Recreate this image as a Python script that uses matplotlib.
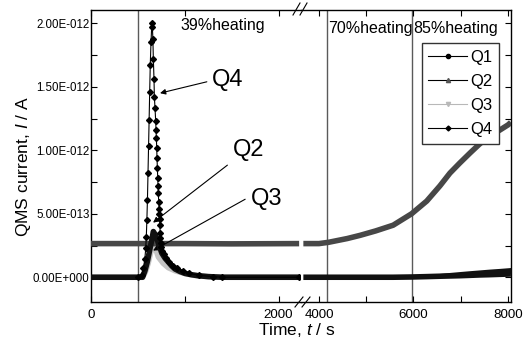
import matplotlib
matplotlib.use('Agg')
import matplotlib.pyplot as plt
from matplotlib.lines import Line2D
from matplotlib.ticker import FixedLocator, FixedFormatter, MultipleLocator

plt.rcParams['font.family'] = 'Liberation Sans'
plt.rcParams['mathtext.fontset'] = 'custom'
plt.rcParams['mathtext.it'] = 'Liberation Sans:italic'
plt.rcParams['mathtext.rm'] = 'Liberation Sans'

# currents in units of 1E-12 A, time in s

# ---- before the axis break ----
t_q1_left = [0, 550, 575, 600, 625, 650, 665, 690, 718, 755, 790, 825, 860, 896, 950,
             1003, 1070, 1142, 1250, 1400, 2220]
q1_left = [0, 0, 0.05, 0.12, 0.21, 0.30, 0.36, 0.33, 0.27, 0.19, 0.15, 0.12, 0.09, 0.065,
           0.045, 0.03, 0.02, 0.012, 0.005, 0, 0]

t_q2_left = [0, 500, 1000, 1500, 2220]
q2_left = [0.265, 0.265, 0.265, 0.263, 0.265]

t_q3_left = [0, 550, 580, 610, 635, 655, 670, 700, 718, 770, 825, 900, 1000, 1100, 1250, 1400, 2220]
q3_left = [0, 0, 0.04, 0.11, 0.19, 0.24, 0.245, 0.20, 0.16, 0.11, 0.075, 0.05, 0.03, 0.015,
           0.005, 0, 0]

t_q4_left = [500, 541, 558, 574, 584, 590, 596, 602, 608, 614, 620, 626, 632, 640, 647, 653,
             660, 665, 672, 676, 683, 690, 694, 697, 701, 704, 708, 712, 715, 718, 723,
             726, 729, 732, 735, 738, 741, 745, 750, 760, 780, 800, 830, 870, 920, 980,
             1050, 1150, 1300, 1400, 2220]
q4_left = [0, 0.02, 0.07, 0.14, 0.23, 0.32, 0.45, 0.61, 0.82, 1.03, 1.24, 1.46, 1.67, 1.85,
           1.97, 2.00, 1.88, 1.72, 1.56, 1.42, 1.33, 1.23, 1.16, 1.10, 1.02, 0.94, 0.86, 0.78,
           0.72, 0.66, 0.59, 0.54, 0.50, 0.46, 0.41, 0.35, 0.31, 0.27, 0.24, 0.21, 0.18, 0.15,
           0.12, 0.09, 0.07, 0.05, 0.03, 0.015, 0.005, 0, 0]

# ---- after the axis break ----
t_right = [3670, 4000, 4200, 4400, 4600, 4870, 5200, 5570, 5960, 6280, 6560, 6770, 6980,
           7200, 7400, 7600, 7830, 8000, 8060]
q2_right = [0.265, 0.265, 0.275, 0.29, 0.305, 0.33, 0.365, 0.41, 0.50, 0.60, 0.72, 0.82,
            0.90, 0.98, 1.05, 1.11, 1.16, 1.20, 1.22]
q1_right = [0, 0, 0, 0, 0, 0, 0, 0, 0.002, 0.005, 0.008, 0.01, 0.012, 0.015, 0.018,
            0.02, 0.023, 0.025, 0.026]
q1_right_top = [0, 0, 0, 0, 0, 0, 0, 0, 0.005, 0.02, 0.03, 0.038, 0.045, 0.052, 0.058,
                0.064, 0.07, 0.075, 0.077]

heating_left = [500]
heating_right = [4165, 5965]
heating_labels = ['39%heating', '70%heating', '85%heating']

ytick_vals = [0, 0.5, 1.0, 1.5, 2.0]
ytick_labels = ['0.00E+000', '5.00E-013', '1.00E-012', '1.50E-012', '2.00E-012']

c_q1, c_q2, c_q3, c_q4 = '#111111', '#474747', '#c4c4c4', '#000000'
band = dict(lw=4, solid_capstyle='butt')

fig = plt.figure(figsize=(5.27, 3.47), dpi=100)
ax1 = fig.add_axes([91 / 527, 45 / 347, 210 / 527, 292 / 347])
ax2 = fig.add_axes([301 / 527, 45 / 347, 210 / 527, 292 / 347])

# left part
ax1.plot(t_q3_left, q3_left, color=c_q3, zorder=2, **band)
ax1.plot(t_q2_left, q2_left, color=c_q2, zorder=3, **band)
ax1.plot(t_q1_left, q1_left, color=c_q1, zorder=4, **band)
ax1.plot(t_q4_left, q4_left, color=c_q4, lw=0.8, marker='D', ms=3, zorder=5)
for t in heating_left:
    ax1.axvline(t, color='#5a5a5a', lw=1, zorder=1)

# right part
ax2.plot(t_right, q1_right, color=c_q1, zorder=3, **band)
ax2.fill_between(t_right, q1_right, q1_right_top, color=c_q1, lw=0, zorder=3)
ax2.plot(t_right, q2_right, color=c_q2, zorder=4, **band)
for t in heating_right:
    ax2.axvline(t, color='#5a5a5a', lw=1, zorder=1)

for ax in (ax1, ax2):
    ax.set_ylim(-0.195, 2.105)
    ax.yaxis.set_major_locator(FixedLocator(ytick_vals))
    ax.yaxis.set_minor_locator(MultipleLocator(0.25))
    ax.tick_params(which='both', direction='in', length=4, width=0.8, top=True)
    for s in ax.spines.values():
        s.set_linewidth(1.0)

ax1.set_xlim(0, 2240)
ax1.xaxis.set_major_locator(FixedLocator([0, 2000]))
ax1.xaxis.set_minor_locator(FixedLocator([1000]))
ax1.spines['right'].set_visible(False)
ax1.tick_params(which='both', right=False)
ax1.yaxis.set_major_formatter(FixedFormatter(ytick_labels))
ax1.tick_params(axis='y', labelsize=8.3, pad=1)
ax1.tick_params(axis='x', labelsize=9.6, pad=5)

ax2.set_xlim(3620, 8063)
ax2.xaxis.set_major_locator(FixedLocator([4000, 6000, 8000]))
ax2.xaxis.set_minor_locator(FixedLocator([5000, 7000]))
ax2.spines['left'].set_visible(False)
ax2.tick_params(which='both', left=False, right=True, labelleft=False)
ax2.tick_params(axis='x', labelsize=9.6, pad=5)

# heating stage labels
ax1.text(950, 1.98, heating_labels[0], fontsize=11.5, va='center')
ax2.text(4190, 1.96, heating_labels[1], fontsize=11.5, va='center')
ax2.text(5990, 1.96, heating_labels[2], fontsize=11.5, va='center')

# peak annotations
arrow = dict(arrowstyle='-|>', color='k', lw=0.8, mutation_scale=8, shrinkA=2, shrinkB=0)
ax1.annotate('Q4', xy=(736, 1.45), xytext=(1462, 1.55), fontsize=17, ha='center', va='center',
             arrowprops=dict(arrow, relpos=(0, 0.5)))
ax1.annotate('Q2', xy=(662, 0.43), xytext=(1676, 1.00), fontsize=17, ha='center', va='center',
             arrowprops=dict(arrow, relpos=(0, 0)))
ax1.annotate('Q3', xy=(662, 0.21), xytext=(1868, 0.62), fontsize=17, ha='center', va='center',
             arrowprops=dict(arrow, relpos=(0, 0.6)))

# axis labels
fig.text(0.045, 0.52, 'QMS current, $I$ / A', rotation=90, fontsize=12.5, ha='center', va='center')
fig.text(0.564, 0.049, 'Time, $t$ / s', fontsize=12.5, ha='center', va='center')

# break marks
for x0, x1, y0, y1 in [(293, 300, 15, 3), (300, 307, 15, 3), (295, 303, 307, 297), (302, 310, 307, 297)]:
    fig.add_artist(Line2D([x0 / 527, x1 / 527], [1 - y0 / 347, 1 - y1 / 347], color='k', lw=0.8))

handles = [
    Line2D([], [], color='k', lw=0.8, marker='o', ms=3),
    Line2D([], [], color='k', lw=0.8, marker='^', ms=3, mfc='#555555', mec='#555555'),
    Line2D([], [], color='#b8b8b8', lw=0.8, marker='v', ms=3),
    Line2D([], [], color='k', lw=0.8, marker='D', ms=2.5),
]
ax2.legend(handles, ['Q1', 'Q2', 'Q3', 'Q4'], loc='upper right', bbox_to_anchor=(0.943, 0.887),
           borderaxespad=0, fontsize=12, handlelength=2.3, handletextpad=0.2, borderpad=0.4,
           labelspacing=0.55, frameon=True, fancybox=False, edgecolor='#333333', framealpha=1)

fig.savefig('out.png', dpi=100)
